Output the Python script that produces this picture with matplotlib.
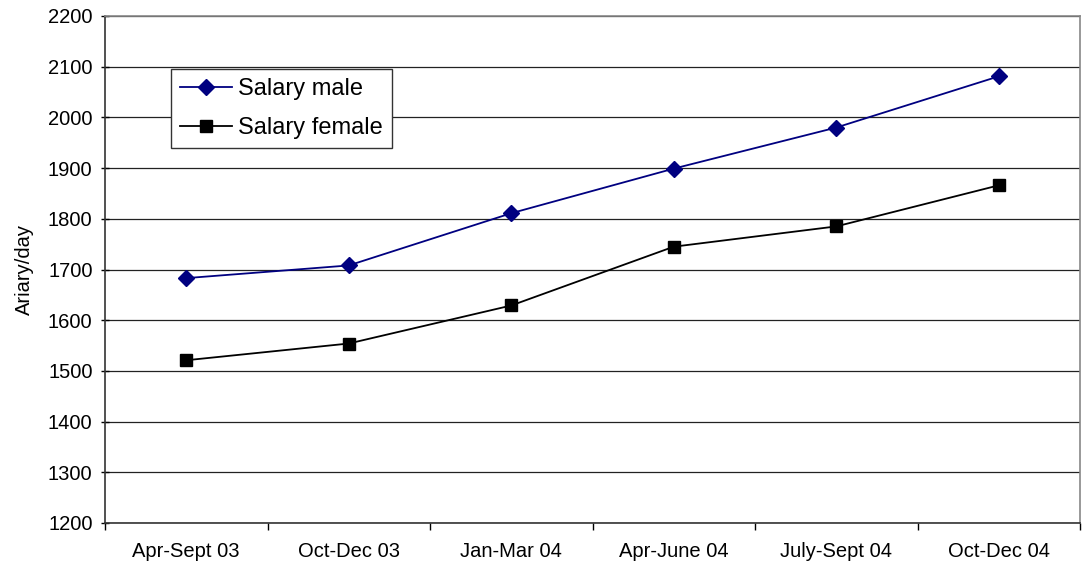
import matplotlib.pyplot as plt

plt.rcParams['font.family'] = ['Liberation Sans', 'DejaVu Sans']

periods = ['Apr-Sept 03', 'Oct-Dec 03', 'Jan-Mar 04', 'Apr-June 04', 'July-Sept 04', 'Oct-Dec 04']
salary_male = [1683, 1708, 1811, 1899, 1980, 2081]
salary_female = [1521, 1554, 1629, 1745, 1785, 1866]
y_ticks = list(range(1200, 2201, 100))

fig = plt.figure(figsize=(10.83, 5.67), dpi=100)
ax = fig.add_axes([105 / 1083, 1 - 523 / 567, (1080 - 105) / 1083, (523 - 16) / 567])

x = list(range(len(periods)))
ax.plot(x, salary_male, color='#000080', marker='D', markersize=8.5, linewidth=1.3, label='Salary male')
ax.plot(x, salary_female, color='black', marker='s', markersize=8, linewidth=1.3, label='Salary female')

ax.set_xlim(-0.5, len(periods) - 0.5)
ax.set_ylim(1200, 2200)
ax.set_yticks(y_ticks)
ax.set_xticks(x)
ax.set_xticklabels(periods)
ax.set_xticks([i - 0.5 for i in range(len(periods) + 1)], minor=True)
ax.tick_params(axis='x', which='major', length=0, pad=14, labelsize=14.5)
ax.tick_params(axis='x', which='minor', length=5, width=1, direction='out')
ax.tick_params(axis='y', length=6, width=1, direction='inout', labelsize=14.5, pad=6)

ax.yaxis.grid(True, color='#222222', linewidth=0.9)
ax.set_axisbelow(True)
for side in ['left', 'bottom']:
    ax.spines[side].set_color('#333333')
    ax.spines[side].set_linewidth(1.2)
for side in ['top', 'right']:
    ax.spines[side].set_color('#888888')
    ax.spines[side].set_linewidth(1.2)

ax.set_ylabel('Ariary/day', fontsize=14.5, labelpad=10)

leg = ax.legend(loc='upper left', bbox_to_anchor=(66 / 975, 1 - 53 / 507),
                fontsize=17, frameon=True, fancybox=False, framealpha=1,
                edgecolor='#333333', borderpad=0.4, handlelength=2.2,
                handletextpad=0.25, labelspacing=0.7, borderaxespad=0)
leg.get_frame().set_linewidth(1.0)

fig.savefig('out.png', dpi=100)
